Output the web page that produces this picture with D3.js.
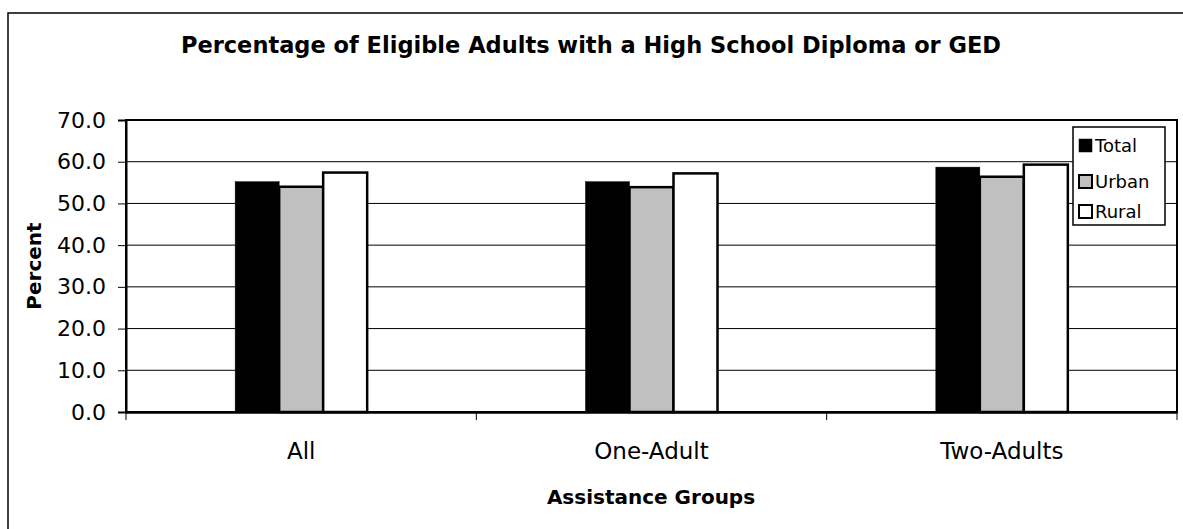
<!DOCTYPE html>
<html><head><meta charset="utf-8">
<script src="https://cdn.jsdelivr.net/npm/d3@7"></script>
<style>body{margin:0;background:#fff}svg{display:block}text{font-family:"DejaVu Sans",sans-serif}</style>
</head><body>
<svg id="c" width="1183" height="529"></svg>
<script>
const categories = ["All", "One-Adult", "Two-Adults"];
const seriesNames = ["Total", "Urban", "Rural"];
const totalValues = [55.2, 55.2, 58.7];
const urbanValues = [54.0, 53.9, 56.4];
const ruralValues = [57.4, 57.2, 59.3];
const yTicks = [0, 10, 20, 30, 40, 50, 60, 70];
const fills = {Total: "#000000", Urban: "#c0c0c0", Rural: "#ffffff"};

const seriesValues = {Total: totalValues, Urban: urbanValues, Rural: ruralValues};
const svg = d3.select("#c");
const L = 126, R = 1177, T = 120, B = 412;
const FONT = "DejaVu Sans";

// outer chart border
svg.append("rect").attr("x", 8).attr("y", 13).attr("width", 1200).attr("height", 600)
  .attr("fill", "#fff").attr("stroke", "#000").attr("stroke-width", 1.5);

const x = d3.scaleBand().domain(categories).range([L, R]);
const y = d3.scaleLinear().domain([0, 70]).range([B, T]);
const barW = 44;
const inner = d3.scaleBand().domain(seriesNames).range([0, barW * 3]);

// gridlines
svg.append("g").selectAll("line").data(yTicks.filter(d => d > 0 && d < 70)).join("line")
  .attr("x1", L).attr("x2", R).attr("y1", d => y(d)).attr("y2", d => y(d))
  .attr("stroke", "#000").attr("stroke-width", 1);

// plot border
svg.append("rect").attr("x", L).attr("y", T).attr("width", R - L).attr("height", B - T)
  .attr("fill", "none").attr("stroke", "#000").attr("stroke-width", 2);

// bars
const g = svg.append("g");
seriesNames.forEach(s => {
  g.selectAll(null).data(categories).join("rect")
    .attr("x", c => x(c) + x.bandwidth() / 2 - barW * 1.5 + inner(s))
    .attr("y", (c, i) => y(seriesValues[s][i]))
    .attr("width", inner.bandwidth())
    .attr("height", (c, i) => B - y(seriesValues[s][i]))
    .attr("fill", fills[s]).attr("stroke", "#000").attr("stroke-width", s === "Total" ? 0.5 : 2.5);
});

// y axis
const yAxis = svg.append("g").attr("transform", `translate(${L},0)`)
  .call(d3.axisLeft(y).tickValues(yTicks).tickFormat(d3.format(".1f")).tickSize(8).tickPadding(12));
yAxis.select(".domain").attr("stroke-width", 2);
yAxis.selectAll("text").attr("font-size", 22).attr("fill", "#000").attr("font-family", FONT);

// x axis
const xAxis = svg.append("g").attr("transform", `translate(0,${B})`)
  .call(d3.axisBottom(x).tickSize(0).tickPadding(31));
xAxis.select(".domain").attr("stroke-width", 2.5);
xAxis.selectAll("text").attr("font-size", 23).attr("fill", "#000").attr("font-family", FONT);
// category boundary ticks
svg.append("g").selectAll("line").data(categories).join("line")
  .attr("x1", c => x(c)).attr("x2", c => x(c)).attr("y1", B).attr("y2", B + 8)
  .attr("stroke", "#000").attr("stroke-width", 1);
svg.append("line").attr("x1", R).attr("x2", R).attr("y1", B).attr("y2", B + 8).attr("stroke", "#000");

// titles
svg.append("text").attr("x", 591).attr("y", 53).attr("text-anchor", "middle")
  .attr("font-size", 22.5).attr("font-weight", "bold").text("Percentage of Eligible Adults with a High School Diploma or GED");
svg.append("text").attr("x", 651).attr("y", 504).attr("text-anchor", "middle")
  .attr("font-size", 20).attr("font-weight", "bold").text("Assistance Groups");
svg.append("text").attr("transform", "translate(41,266) rotate(-90)").attr("text-anchor", "middle")
  .attr("font-size", 20).attr("font-weight", "bold").text("Percent");

// legend
const lg = svg.append("g");
lg.append("rect").attr("x", 1073).attr("y", 127).attr("width", 92).attr("height", 98)
  .attr("fill", "#fff").attr("stroke", "#000").attr("stroke-width", 1.5);
const lyBase = [152, 188, 218];
seriesNames.forEach((s, i) => {
  lg.append("rect").attr("x", 1079).attr("y", lyBase[i] - 13).attr("width", 13).attr("height", 13)
    .attr("fill", fills[s]).attr("stroke", "#000").attr("stroke-width", s === "Total" ? 0.5 : 2);
  lg.append("text").attr("x", 1095).attr("y", lyBase[i]).attr("font-size", 18).text(s);
});
</script>
</body></html>
